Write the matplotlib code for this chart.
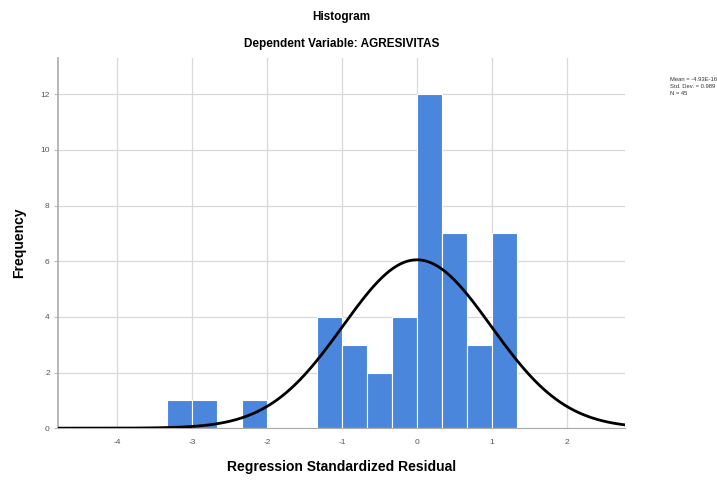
import matplotlib
matplotlib.use("Agg")
import matplotlib.pyplot as plt
import numpy as np

plt.rcParams['font.family'] = ['Liberation Sans', 'DejaVu Sans']
plt.rcParams['axes.unicode_minus'] = False

# histogram of residuals, bin width 1/3
bin_edges = [-10/3, -3, -8/3, -7/3, -2, -5/3, -4/3, -1, -2/3, -1/3, 0, 1/3, 2/3, 1, 4/3]
counts = [1, 1, 0, 1, 0, 0, 4, 3, 2, 4, 12, 7, 3, 7]
mean = -4.93e-16
std = 0.989
n = 45
x_ticks = [-4, -3, -2, -1, 0, 1, 2]
y_ticks = [0, 2, 4, 6, 8, 10, 12]

fig = plt.figure(figsize=(7.17, 4.80), dpi=100)
ax = fig.add_axes([0.081, 0.108, 0.791, 0.771])

lefts = np.array(bin_edges[:-1])
widths = np.diff(bin_edges)
ax.bar(lefts, counts, width=widths, align='edge', color='#4A86DC',
       edgecolor='white', linewidth=0.8, zorder=2)

xs = np.linspace(-4.8, 2.78, 400)
bw = 1/3
ys = n * bw / (std * np.sqrt(2 * np.pi)) * np.exp(-0.5 * ((xs - mean) / std) ** 2)
ax.plot(xs, ys, color='black', linewidth=2, zorder=3)

ax.set_xlim(-4.79, 2.78)
ax.set_ylim(0, 13.3)
ax.set_xticks(x_ticks)
ax.set_yticks(y_ticks)
ax.tick_params(axis='x', length=0, labelsize=6, colors='#555555', pad=8)
ax.tick_params(axis='y', length=3, labelsize=6, colors='#555555', pad=3, color='#bbbbbb')
ax.grid(True, color='#d9d9d9', linewidth=0.9, zorder=0)
ax.set_axisbelow(True)
for s in ['top', 'right']:
    ax.spines[s].set_visible(False)
ax.spines['left'].set_color('#aaaaaa')
ax.spines['bottom'].set_color('#aaaaaa')
ax.spines['left'].set_linewidth(1.2)

ax.set_xlabel('Regression Standardized Residual', fontsize=10, fontweight='bold', labelpad=10)
ax.set_ylabel('Frequency', fontsize=10, fontweight='bold', labelpad=10)

fig.text(0.476, 0.965, 'Histogram', ha='center', va='center', fontsize=8.5, fontweight='bold')
fig.text(0.476, 0.908, 'Dependent Variable: AGRESIVITAS', ha='center', va='center',
         fontsize=8.5, fontweight='bold')

fig.text(0.934, 0.84, 'Mean = -4.93E-16\nStd. Dev. = 0.989\nN = 45', ha='left', va='top',
         fontsize=4.2, color='#333333', linespacing=1.5)

fig.savefig('out.png', dpi=100)
